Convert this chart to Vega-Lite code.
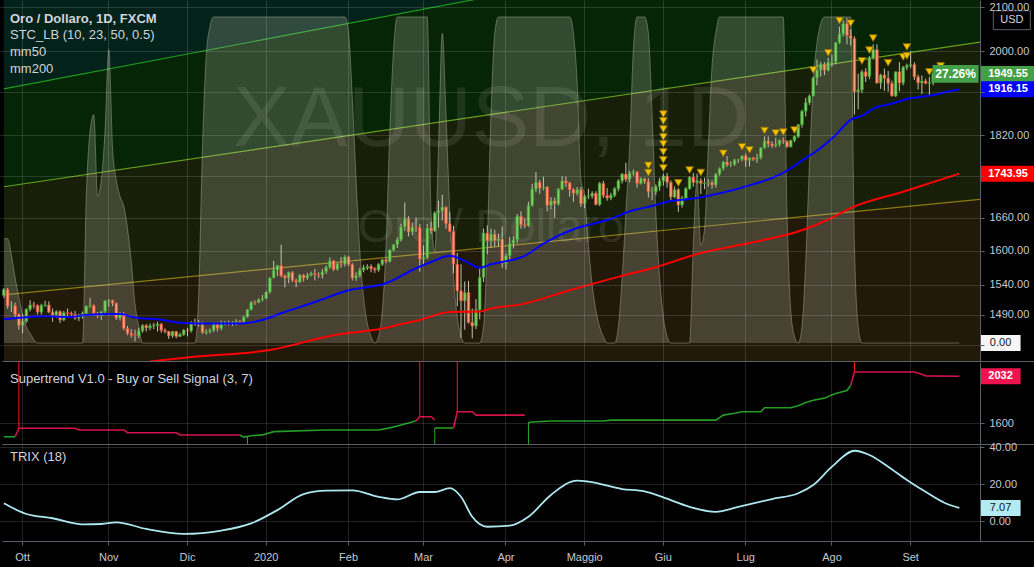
{
"$schema": "https://vega.github.io/schema/vega-lite/v6.json",
"background": "#000000",
"padding": {"left": 0, "top": 0, "right": 0, "bottom": 5},
"bounds": "flush",
"spacing": 1,
"resolve": {"scale": {"x": "shared", "color": "independent"}},
"config": {
  "view": {"stroke": null},
  "axis": {"labelFont": "Liberation Sans", "labelFontSize": 11, "labelColor": "#c5c8cf", "domainColor": "#5d606b", "tickColor": "#5d606b", "gridColor": "#ffffff", "gridOpacity": 0.13},
  "title": {"font": "Liberation Sans", "color": "#d1d4dc", "anchor": "start", "frame": "group"}
},
"datasets": {
  "ohlc": [
{"d":"2019-09-24","o":1522,"h":1535,"l":1518,"c":1532},{"d":"2019-09-25","o":1532,"h":1535,"l":1500,"c":1504},{"d":"2019-09-26","o":1504,"h":1512,"l":1494,"c":1505},{"d":"2019-09-27","o":1505,"h":1510,"l":1485,"c":1490},{"d":"2019-09-30","o":1490,"h":1492,"l":1465,"c":1472},
{"d":"2019-10-01","o":1472,"h":1490,"l":1459,"c":1479},{"d":"2019-10-02","o":1479,"h":1500,"l":1476,"c":1499},{"d":"2019-10-03","o":1499,"h":1514,"l":1495,"c":1506},{"d":"2019-10-04","o":1506,"h":1511,"l":1500,"c":1505},{"d":"2019-10-07","o":1505,"h":1507,"l":1490,"c":1494},{"d":"2019-10-08","o":1494,"h":1508,"l":1490,"c":1505},{"d":"2019-10-09","o":1505,"h":1513,"l":1503,"c":1506},{"d":"2019-10-10","o":1506,"h":1512,"l":1492,"c":1494},{"d":"2019-10-11","o":1494,"h":1500,"l":1478,"c":1489},{"d":"2019-10-14","o":1489,"h":1497,"l":1484,"c":1495},{"d":"2019-10-15","o":1495,"h":1497,"l":1476,"c":1481},{"d":"2019-10-16","o":1481,"h":1496,"l":1479,"c":1493},{"d":"2019-10-17","o":1493,"h":1500,"l":1486,"c":1492},{"d":"2019-10-18","o":1492,"h":1495,"l":1485,"c":1490},{"d":"2019-10-21","o":1490,"h":1496,"l":1481,"c":1484},{"d":"2019-10-22","o":1484,"h":1491,"l":1479,"c":1487},{"d":"2019-10-23","o":1487,"h":1495,"l":1483,"c":1492},{"d":"2019-10-24","o":1492,"h":1505,"l":1489,"c":1504},{"d":"2019-10-25","o":1504,"h":1518,"l":1501,"c":1505},{"d":"2019-10-28","o":1505,"h":1507,"l":1488,"c":1492},{"d":"2019-10-29","o":1492,"h":1494,"l":1484,"c":1488},{"d":"2019-10-30","o":1488,"h":1496,"l":1481,"c":1495},{"d":"2019-10-31","o":1495,"h":1514,"l":1491,"c":1513},
{"d":"2019-11-01","o":1513,"h":1516,"l":1503,"c":1514},{"d":"2019-11-04","o":1514,"h":1515,"l":1504,"c":1509},{"d":"2019-11-05","o":1509,"h":1510,"l":1481,"c":1484},{"d":"2019-11-06","o":1484,"h":1494,"l":1480,"c":1491},{"d":"2019-11-07","o":1491,"h":1494,"l":1464,"c":1467},{"d":"2019-11-08","o":1467,"h":1471,"l":1456,"c":1459},{"d":"2019-11-11","o":1459,"h":1466,"l":1452,"c":1456},{"d":"2019-11-12","o":1456,"h":1465,"l":1446,"c":1455},{"d":"2019-11-13","o":1455,"h":1468,"l":1451,"c":1463},{"d":"2019-11-14","o":1463,"h":1474,"l":1460,"c":1472},{"d":"2019-11-15","o":1472,"h":1474,"l":1462,"c":1468},{"d":"2019-11-18","o":1468,"h":1475,"l":1464,"c":1471},{"d":"2019-11-19","o":1471,"h":1476,"l":1466,"c":1472},{"d":"2019-11-20","o":1472,"h":1478,"l":1462,"c":1474},{"d":"2019-11-21","o":1474,"h":1476,"l":1460,"c":1464},{"d":"2019-11-22","o":1464,"h":1467,"l":1459,"c":1462},{"d":"2019-11-25","o":1462,"h":1463,"l":1450,"c":1455},{"d":"2019-11-26","o":1455,"h":1463,"l":1452,"c":1462},{"d":"2019-11-27","o":1462,"h":1463,"l":1451,"c":1454},{"d":"2019-11-28","o":1454,"h":1460,"l":1453,"c":1457},{"d":"2019-11-29","o":1457,"h":1466,"l":1455,"c":1464},
{"d":"2019-12-02","o":1464,"h":1468,"l":1454,"c":1463},{"d":"2019-12-03","o":1463,"h":1479,"l":1460,"c":1477},{"d":"2019-12-04","o":1477,"h":1483,"l":1471,"c":1474},{"d":"2019-12-05","o":1474,"h":1481,"l":1470,"c":1475},{"d":"2019-12-06","o":1475,"h":1478,"l":1458,"c":1460},{"d":"2019-12-09","o":1460,"h":1466,"l":1457,"c":1462},{"d":"2019-12-10","o":1462,"h":1467,"l":1459,"c":1464},{"d":"2019-12-11","o":1464,"h":1477,"l":1461,"c":1475},{"d":"2019-12-12","o":1475,"h":1477,"l":1462,"c":1467},{"d":"2019-12-13","o":1467,"h":1480,"l":1464,"c":1476},{"d":"2019-12-16","o":1476,"h":1479,"l":1472,"c":1476},{"d":"2019-12-17","o":1476,"h":1480,"l":1472,"c":1475},{"d":"2019-12-18","o":1475,"h":1479,"l":1471,"c":1477},{"d":"2019-12-19","o":1477,"h":1482,"l":1472,"c":1479},{"d":"2019-12-20","o":1479,"h":1481,"l":1474,"c":1478},{"d":"2019-12-23","o":1478,"h":1488,"l":1476,"c":1486},{"d":"2019-12-24","o":1486,"h":1499,"l":1485,"c":1498},{"d":"2019-12-26","o":1498,"h":1512,"l":1497,"c":1511},{"d":"2019-12-27","o":1511,"h":1514,"l":1506,"c":1510},{"d":"2019-12-30","o":1510,"h":1517,"l":1509,"c":1515},{"d":"2019-12-31","o":1515,"h":1523,"l":1512,"c":1517},
{"d":"2020-01-02","o":1517,"h":1529,"l":1516,"c":1528},{"d":"2020-01-03","o":1528,"h":1553,"l":1525,"c":1552},{"d":"2020-01-06","o":1552,"h":1582,"l":1552,"c":1566},{"d":"2020-01-07","o":1566,"h":1575,"l":1555,"c":1574},{"d":"2020-01-08","o":1574,"h":1611,"l":1553,"c":1556},{"d":"2020-01-09","o":1556,"h":1558,"l":1536,"c":1552},{"d":"2020-01-10","o":1552,"h":1563,"l":1543,"c":1562},{"d":"2020-01-13","o":1562,"h":1564,"l":1545,"c":1548},{"d":"2020-01-14","o":1548,"h":1551,"l":1536,"c":1545},{"d":"2020-01-15","o":1545,"h":1559,"l":1543,"c":1557},{"d":"2020-01-16","o":1557,"h":1559,"l":1546,"c":1552},{"d":"2020-01-17","o":1552,"h":1561,"l":1549,"c":1557},{"d":"2020-01-20","o":1557,"h":1563,"l":1555,"c":1560},{"d":"2020-01-21","o":1560,"h":1568,"l":1548,"c":1558},{"d":"2020-01-22","o":1558,"h":1562,"l":1552,"c":1557},{"d":"2020-01-23","o":1557,"h":1568,"l":1551,"c":1563},{"d":"2020-01-24","o":1563,"h":1574,"l":1559,"c":1571},{"d":"2020-01-27","o":1571,"h":1588,"l":1568,"c":1582},{"d":"2020-01-28","o":1582,"h":1584,"l":1564,"c":1567},{"d":"2020-01-29","o":1567,"h":1579,"l":1565,"c":1577},{"d":"2020-01-30","o":1577,"h":1589,"l":1570,"c":1576},{"d":"2020-01-31","o":1576,"h":1592,"l":1572,"c":1589},
{"d":"2020-02-03","o":1589,"h":1591,"l":1573,"c":1576},{"d":"2020-02-04","o":1576,"h":1578,"l":1548,"c":1552},{"d":"2020-02-05","o":1552,"h":1562,"l":1547,"c":1556},{"d":"2020-02-06","o":1556,"h":1570,"l":1553,"c":1566},{"d":"2020-02-07","o":1566,"h":1575,"l":1562,"c":1570},{"d":"2020-02-10","o":1570,"h":1576,"l":1566,"c":1572},{"d":"2020-02-11","o":1572,"h":1576,"l":1562,"c":1568},{"d":"2020-02-12","o":1568,"h":1571,"l":1561,"c":1566},{"d":"2020-02-13","o":1566,"h":1578,"l":1563,"c":1576},{"d":"2020-02-14","o":1576,"h":1585,"l":1573,"c":1584},{"d":"2020-02-17","o":1584,"h":1586,"l":1578,"c":1581},{"d":"2020-02-18","o":1581,"h":1603,"l":1579,"c":1601},{"d":"2020-02-19","o":1601,"h":1612,"l":1599,"c":1611},{"d":"2020-02-20","o":1611,"h":1624,"l":1605,"c":1620},{"d":"2020-02-21","o":1620,"h":1649,"l":1617,"c":1643},{"d":"2020-02-24","o":1643,"h":1689,"l":1636,"c":1658},{"d":"2020-02-25","o":1658,"h":1663,"l":1626,"c":1634},{"d":"2020-02-26","o":1634,"h":1651,"l":1628,"c":1643},{"d":"2020-02-27","o":1643,"h":1661,"l":1634,"c":1642},{"d":"2020-02-28","o":1642,"h":1649,"l":1563,"c":1585},
{"d":"2020-03-02","o":1585,"h":1610,"l":1575,"c":1588},{"d":"2020-03-03","o":1588,"h":1649,"l":1585,"c":1641},{"d":"2020-03-04","o":1641,"h":1652,"l":1631,"c":1636},{"d":"2020-03-05","o":1636,"h":1672,"l":1634,"c":1669},{"d":"2020-03-06","o":1669,"h":1692,"l":1642,"c":1673},{"d":"2020-03-09","o":1673,"h":1703,"l":1655,"c":1680},{"d":"2020-03-10","o":1680,"h":1681,"l":1640,"c":1649},{"d":"2020-03-11","o":1649,"h":1671,"l":1634,"c":1635},{"d":"2020-03-12","o":1635,"h":1645,"l":1560,"c":1576},{"d":"2020-03-13","o":1576,"h":1596,"l":1504,"c":1530},{"d":"2020-03-16","o":1530,"h":1576,"l":1452,"c":1513},{"d":"2020-03-17","o":1513,"h":1546,"l":1465,"c":1527},{"d":"2020-03-18","o":1527,"h":1547,"l":1475,"c":1477},{"d":"2020-03-19","o":1477,"h":1500,"l":1451,"c":1471},{"d":"2020-03-20","o":1471,"h":1516,"l":1466,"c":1498},{"d":"2020-03-23","o":1498,"h":1569,"l":1482,"c":1553},{"d":"2020-03-24","o":1553,"h":1640,"l":1545,"c":1632},{"d":"2020-03-25","o":1632,"h":1646,"l":1594,"c":1618},{"d":"2020-03-26","o":1618,"h":1640,"l":1605,"c":1630},{"d":"2020-03-27","o":1630,"h":1638,"l":1607,"c":1618},{"d":"2020-03-30","o":1618,"h":1631,"l":1608,"c":1621},{"d":"2020-03-31","o":1621,"h":1644,"l":1570,"c":1577},
{"d":"2020-04-01","o":1577,"h":1595,"l":1567,"c":1591},{"d":"2020-04-02","o":1591,"h":1625,"l":1584,"c":1613},{"d":"2020-04-03","o":1613,"h":1626,"l":1604,"c":1620},{"d":"2020-04-06","o":1620,"h":1667,"l":1613,"c":1663},{"d":"2020-04-07","o":1663,"h":1672,"l":1640,"c":1647},{"d":"2020-04-08","o":1647,"h":1658,"l":1641,"c":1645},{"d":"2020-04-09","o":1645,"h":1690,"l":1643,"c":1683},{"d":"2020-04-13","o":1683,"h":1724,"l":1681,"c":1714},{"d":"2020-04-14","o":1714,"h":1747,"l":1708,"c":1727},{"d":"2020-04-15","o":1727,"h":1732,"l":1705,"c":1716},{"d":"2020-04-16","o":1716,"h":1738,"l":1712,"c":1718},{"d":"2020-04-17","o":1718,"h":1720,"l":1672,"c":1683},{"d":"2020-04-20","o":1683,"h":1699,"l":1676,"c":1692},{"d":"2020-04-21","o":1692,"h":1698,"l":1660,"c":1686},{"d":"2020-04-22","o":1686,"h":1716,"l":1683,"c":1714},{"d":"2020-04-23","o":1714,"h":1739,"l":1712,"c":1730},{"d":"2020-04-24","o":1730,"h":1738,"l":1718,"c":1726},{"d":"2020-04-27","o":1726,"h":1728,"l":1700,"c":1713},{"d":"2020-04-28","o":1713,"h":1716,"l":1690,"c":1706},{"d":"2020-04-29","o":1706,"h":1718,"l":1702,"c":1713},{"d":"2020-04-30","o":1713,"h":1718,"l":1680,"c":1686},
{"d":"2020-05-01","o":1686,"h":1703,"l":1678,"c":1700},{"d":"2020-05-04","o":1700,"h":1715,"l":1695,"c":1701},{"d":"2020-05-05","o":1701,"h":1710,"l":1696,"c":1706},{"d":"2020-05-06","o":1706,"h":1710,"l":1683,"c":1685},{"d":"2020-05-07","o":1685,"h":1728,"l":1682,"c":1725},{"d":"2020-05-08","o":1725,"h":1730,"l":1697,"c":1702},{"d":"2020-05-11","o":1702,"h":1716,"l":1692,"c":1697},{"d":"2020-05-12","o":1697,"h":1707,"l":1693,"c":1702},{"d":"2020-05-13","o":1702,"h":1718,"l":1699,"c":1715},{"d":"2020-05-14","o":1715,"h":1733,"l":1710,"c":1730},{"d":"2020-05-15","o":1730,"h":1745,"l":1725,"c":1743},{"d":"2020-05-18","o":1743,"h":1765,"l":1728,"c":1733},{"d":"2020-05-19","o":1733,"h":1749,"l":1727,"c":1745},{"d":"2020-05-20","o":1745,"h":1752,"l":1740,"c":1747},{"d":"2020-05-21","o":1747,"h":1749,"l":1717,"c":1725},{"d":"2020-05-22","o":1725,"h":1737,"l":1723,"c":1734},{"d":"2020-05-25","o":1734,"h":1736,"l":1724,"c":1729},{"d":"2020-05-26","o":1729,"h":1735,"l":1698,"c":1709},{"d":"2020-05-27","o":1709,"h":1718,"l":1693,"c":1709},{"d":"2020-05-28","o":1709,"h":1723,"l":1702,"c":1719},{"d":"2020-05-29","o":1719,"h":1736,"l":1711,"c":1730},
{"d":"2020-06-01","o":1730,"h":1744,"l":1721,"c":1739},{"d":"2020-06-02","o":1739,"h":1745,"l":1717,"c":1727},{"d":"2020-06-03","o":1727,"h":1731,"l":1693,"c":1699},{"d":"2020-06-04","o":1699,"h":1719,"l":1697,"c":1713},{"d":"2020-06-05","o":1713,"h":1716,"l":1671,"c":1684},{"d":"2020-06-08","o":1684,"h":1701,"l":1679,"c":1697},{"d":"2020-06-09","o":1697,"h":1718,"l":1694,"c":1715},{"d":"2020-06-10","o":1715,"h":1739,"l":1713,"c":1737},{"d":"2020-06-11","o":1737,"h":1745,"l":1719,"c":1727},{"d":"2020-06-12","o":1727,"h":1744,"l":1725,"c":1730},{"d":"2020-06-15","o":1730,"h":1735,"l":1705,"c":1725},{"d":"2020-06-16","o":1725,"h":1736,"l":1714,"c":1726},{"d":"2020-06-17","o":1726,"h":1733,"l":1719,"c":1727},{"d":"2020-06-18","o":1727,"h":1731,"l":1715,"c":1722},{"d":"2020-06-19","o":1722,"h":1745,"l":1717,"c":1743},{"d":"2020-06-22","o":1743,"h":1756,"l":1740,"c":1754},{"d":"2020-06-23","o":1754,"h":1769,"l":1750,"c":1767},{"d":"2020-06-24","o":1767,"h":1779,"l":1757,"c":1761},{"d":"2020-06-25","o":1761,"h":1768,"l":1757,"c":1762},{"d":"2020-06-26","o":1762,"h":1773,"l":1759,"c":1771},{"d":"2020-06-29","o":1771,"h":1773,"l":1765,"c":1772},{"d":"2020-06-30","o":1772,"h":1780,"l":1768,"c":1779},
{"d":"2020-07-01","o":1779,"h":1784,"l":1757,"c":1770},{"d":"2020-07-02","o":1770,"h":1776,"l":1758,"c":1775},{"d":"2020-07-03","o":1775,"h":1777,"l":1769,"c":1772},{"d":"2020-07-06","o":1772,"h":1783,"l":1765,"c":1775},{"d":"2020-07-07","o":1775,"h":1796,"l":1772,"c":1795},{"d":"2020-07-08","o":1795,"h":1818,"l":1793,"c":1809},{"d":"2020-07-09","o":1809,"h":1818,"l":1796,"c":1803},{"d":"2020-07-10","o":1803,"h":1808,"l":1795,"c":1799},{"d":"2020-07-13","o":1799,"h":1815,"l":1796,"c":1802},{"d":"2020-07-14","o":1802,"h":1812,"l":1798,"c":1810},{"d":"2020-07-15","o":1810,"h":1816,"l":1803,"c":1808},{"d":"2020-07-16","o":1808,"h":1810,"l":1795,"c":1797},{"d":"2020-07-17","o":1797,"h":1811,"l":1796,"c":1810},{"d":"2020-07-20","o":1810,"h":1820,"l":1806,"c":1818},{"d":"2020-07-21","o":1818,"h":1843,"l":1815,"c":1842},{"d":"2020-07-22","o":1842,"h":1873,"l":1836,"c":1870},{"d":"2020-07-23","o":1870,"h":1898,"l":1859,"c":1888},{"d":"2020-07-24","o":1888,"h":1905,"l":1883,"c":1902},{"d":"2020-07-27","o":1902,"h":1944,"l":1901,"c":1941},{"d":"2020-07-28","o":1941,"h":1981,"l":1925,"c":1958},{"d":"2020-07-29","o":1958,"h":1976,"l":1944,"c":1971},{"d":"2020-07-30","o":1971,"h":1975,"l":1947,"c":1957},{"d":"2020-07-31","o":1957,"h":1985,"l":1955,"c":1975},
{"d":"2020-08-03","o":1975,"h":1992,"l":1965,"c":1976},{"d":"2020-08-04","o":1976,"h":2020,"l":1970,"c":2019},{"d":"2020-08-05","o":2019,"h":2055,"l":2016,"c":2039},{"d":"2020-08-06","o":2039,"h":2070,"l":2033,"c":2062},{"d":"2020-08-07","o":2062,"h":2075,"l":2015,"c":2035},{"d":"2020-08-10","o":2035,"h":2049,"l":2012,"c":2028},{"d":"2020-08-11","o":2028,"h":2033,"l":1863,"c":1911},{"d":"2020-08-12","o":1911,"h":1950,"l":1874,"c":1915},{"d":"2020-08-13","o":1915,"h":1958,"l":1908,"c":1954},{"d":"2020-08-14","o":1954,"h":1962,"l":1932,"c":1944},{"d":"2020-08-17","o":1944,"h":1989,"l":1938,"c":1985},{"d":"2020-08-18","o":1985,"h":2015,"l":1981,"c":2003},{"d":"2020-08-19","o":2003,"h":2015,"l":1928,"c":1930},{"d":"2020-08-20","o":1930,"h":1950,"l":1917,"c":1947},{"d":"2020-08-21","o":1947,"h":1961,"l":1913,"c":1940},{"d":"2020-08-24","o":1940,"h":1956,"l":1911,"c":1929},{"d":"2020-08-25","o":1929,"h":1935,"l":1901,"c":1902},{"d":"2020-08-26","o":1902,"h":1955,"l":1900,"c":1954},{"d":"2020-08-27","o":1954,"h":1975,"l":1912,"c":1930},{"d":"2020-08-28","o":1930,"h":1967,"l":1925,"c":1964},{"d":"2020-08-31","o":1964,"h":1972,"l":1958,"c":1968},
{"d":"2020-09-01","o":1968,"h":2000,"l":1962,"c":1970},{"d":"2020-09-02","o":1970,"h":1975,"l":1936,"c":1943},{"d":"2020-09-03","o":1943,"h":1948,"l":1916,"c":1930},{"d":"2020-09-04","o":1930,"h":1946,"l":1906,"c":1934},{"d":"2020-09-07","o":1934,"h":1939,"l":1927,"c":1929},{"d":"2020-09-08","o":1929,"h":1943,"l":1904,"c":1931},{"d":"2020-09-09","o":1931,"h":1956,"l":1925,"c":1949.55}
  ],
  "mm50": [
{"d":"2019-09-24","v":1482},{"d":"2019-10-01","v":1485},{"d":"2019-10-09","v":1487},{"d":"2019-10-17","v":1486},{"d":"2019-10-24","v":1489},{"d":"2019-11-01","v":1491},{"d":"2019-11-06","v":1491},{"d":"2019-11-12","v":1485},{"d":"2019-11-20","v":1482},{"d":"2019-11-29","v":1476},{"d":"2019-12-11","v":1475},{"d":"2019-12-20","v":1475},{"d":"2019-12-31","v":1481},{"d":"2020-01-08","v":1492},{"d":"2020-01-21","v":1511},{"d":"2020-02-03","v":1531},{"d":"2020-02-17","v":1543},{"d":"2020-02-27","v":1569},{"d":"2020-03-04","v":1580},{"d":"2020-03-11","v":1591},{"d":"2020-03-17","v":1582},{"d":"2020-03-23","v":1570},{"d":"2020-03-26","v":1576},{"d":"2020-03-31","v":1580},{"d":"2020-04-08","v":1591},{"d":"2020-04-16","v":1613},{"d":"2020-04-28","v":1639},{"d":"2020-05-11","v":1656},{"d":"2020-05-20","v":1674},{"d":"2020-05-27","v":1682},{"d":"2020-06-02","v":1690},{"d":"2020-06-11","v":1696},{"d":"2020-06-18","v":1703},{"d":"2020-06-30","v":1717},{"d":"2020-07-17","v":1754},{"d":"2020-07-23","v":1775},{"d":"2020-07-27","v":1784},{"d":"2020-08-04","v":1821},{"d":"2020-08-10","v":1852},{"d":"2020-08-13","v":1860},{"d":"2020-08-18","v":1875},{"d":"2020-08-25","v":1886},{"d":"2020-09-01","v":1897},{"d":"2020-09-09","v":1904},{"d":"2020-09-16","v":1913},{"d":"2020-09-18","v":1916.15}
  ],
  "mm200": [
{"d":"2019-11-18","v":1414},{"d":"2019-12-05","v":1422},{"d":"2020-01-03","v":1432},{"d":"2020-01-28","v":1456},{"d":"2020-02-14","v":1467},{"d":"2020-02-21","v":1474},{"d":"2020-02-28","v":1481},{"d":"2020-03-11","v":1494},{"d":"2020-03-23","v":1495},{"d":"2020-03-26","v":1500},{"d":"2020-04-07","v":1507},{"d":"2020-04-27","v":1531},{"d":"2020-05-14","v":1554},{"d":"2020-05-27","v":1569},{"d":"2020-06-15","v":1596},{"d":"2020-07-02","v":1614},{"d":"2020-07-22","v":1637},{"d":"2020-08-03","v":1660},{"d":"2020-08-10","v":1678},{"d":"2020-08-28","v":1709},{"d":"2020-09-18","v":1743.95}
  ],
  "stc": [
{"d":"2019-09-24","v":32},{"d":"2019-09-25","v":32},{"d":"2019-09-26","v":27},{"d":"2019-09-27","v":20},{"d":"2019-09-30","v":14},{"d":"2019-10-01","v":9},{"d":"2019-10-02","v":5},{"d":"2019-10-03","v":3},{"d":"2019-10-04","v":1},{"d":"2019-10-07","v":0},{"d":"2019-10-23","v":0},{"d":"2019-10-24","v":45},{"d":"2019-10-25","v":65},{"d":"2019-10-28","v":70},{"d":"2019-10-29","v":45},{"d":"2019-10-30","v":50},{"d":"2019-10-31","v":65},{"d":"2019-11-01","v":90},{"d":"2019-11-04","v":60},{"d":"2019-11-05","v":50},{"d":"2019-11-06","v":45},{"d":"2019-11-07","v":42},{"d":"2019-11-08","v":35},{"d":"2019-11-11","v":25},{"d":"2019-11-12","v":12},{"d":"2019-11-13","v":5},{"d":"2019-11-14","v":0},{"d":"2019-12-04","v":0},{"d":"2019-12-05","v":15},{"d":"2019-12-06","v":60},{"d":"2019-12-09","v":88},{"d":"2019-12-10","v":97},{"d":"2019-12-11","v":100},{"d":"2020-01-31","v":100},{"d":"2020-02-03","v":95},{"d":"2020-02-04","v":75},{"d":"2020-02-05","v":50},{"d":"2020-02-06","v":28},{"d":"2020-02-07","v":14},{"d":"2020-02-10","v":6},{"d":"2020-02-11","v":2},{"d":"2020-02-12","v":0},{"d":"2020-02-13","v":2},{"d":"2020-02-14","v":10},{"d":"2020-02-17","v":30},{"d":"2020-02-18","v":65},{"d":"2020-02-19","v":90},{"d":"2020-02-20","v":100},{"d":"2020-03-03","v":100},{"d":"2020-03-04","v":40},{"d":"2020-03-05","v":28},{"d":"2020-03-06","v":60},{"d":"2020-03-09","v":95},{"d":"2020-03-10","v":70},{"d":"2020-03-11","v":40},{"d":"2020-03-12","v":20},{"d":"2020-03-13","v":8},{"d":"2020-03-16","v":2},{"d":"2020-03-17","v":0},{"d":"2020-03-23","v":0},{"d":"2020-03-24","v":5},{"d":"2020-03-25","v":30},{"d":"2020-03-26","v":70},{"d":"2020-03-27","v":95},{"d":"2020-03-30","v":100},{"d":"2020-04-27","v":100},{"d":"2020-04-28","v":95},{"d":"2020-04-29","v":80},{"d":"2020-04-30","v":50},{"d":"2020-05-01","v":45},{"d":"2020-05-04","v":30},{"d":"2020-05-05","v":18},{"d":"2020-05-06","v":10},{"d":"2020-05-07","v":5},{"d":"2020-05-08","v":2},{"d":"2020-05-11","v":0},{"d":"2020-05-13","v":0},{"d":"2020-05-14","v":5},{"d":"2020-05-15","v":20},{"d":"2020-05-18","v":40},{"d":"2020-05-19","v":60},{"d":"2020-05-20","v":90},{"d":"2020-05-21","v":100},{"d":"2020-05-25","v":100},{"d":"2020-05-26","v":95},{"d":"2020-05-27","v":70},{"d":"2020-05-28","v":40},{"d":"2020-05-29","v":20},{"d":"2020-06-01","v":8},{"d":"2020-06-02","v":2},{"d":"2020-06-03","v":0},{"d":"2020-06-10","v":0},{"d":"2020-06-11","v":30},{"d":"2020-06-12","v":50},{"d":"2020-06-15","v":30},{"d":"2020-06-16","v":35},{"d":"2020-06-17","v":60},{"d":"2020-06-18","v":85},{"d":"2020-06-19","v":95},{"d":"2020-06-22","v":100},{"d":"2020-07-15","v":100},{"d":"2020-07-16","v":40},{"d":"2020-07-17","v":10},{"d":"2020-07-20","v":2},{"d":"2020-07-21","v":0},{"d":"2020-07-22","v":5},{"d":"2020-07-23","v":25},{"d":"2020-07-24","v":55},{"d":"2020-07-27","v":80},{"d":"2020-07-28","v":92},{"d":"2020-07-29","v":98},{"d":"2020-07-30","v":100},{"d":"2020-08-10","v":100},{"d":"2020-08-11","v":30},{"d":"2020-08-12","v":5},{"d":"2020-08-13","v":0},{"d":"2020-09-18","v":0}
  ],
  "tri": [
{"d":"2020-05-26","p":1760},{"d":"2020-05-26","p":1746},{"d":"2020-06-01","p":1864},{"d":"2020-06-01","p":1850},{"d":"2020-06-01","p":1833},{"d":"2020-06-01","p":1817},{"d":"2020-06-01","p":1803},{"d":"2020-06-01","p":1787},{"d":"2020-06-01","p":1771},{"d":"2020-06-01","p":1755},{"d":"2020-06-05","p":1726},{"d":"2020-06-10","p":1751},{"d":"2020-06-15","p":1746},{"d":"2020-06-23","p":1784},{"d":"2020-06-30","p":1797},{"d":"2020-07-02","p":1791},{"d":"2020-07-08","p":1830},{"d":"2020-07-13","p":1825},{"d":"2020-07-15","p":1827},{"d":"2020-07-20","p":1831},{"d":"2020-07-27","p":1958},{"d":"2020-07-31","p":1996},{"d":"2020-08-05","p":2069},{"d":"2020-08-10","p":2063},{"d":"2020-08-13","p":1978},{"d":"2020-08-17","p":2002},{"d":"2020-08-18","p":2029},{"d":"2020-08-24","p":1974},{"d":"2020-08-28","p":1987},{"d":"2020-08-31","p":2009},{"d":"2020-08-31","p":1989},{"d":"2020-09-08","p":1954},{"d":"2020-09-11","p":1967}
  ],
  "chan": [
{"d":"2019-09-24","A":1917.1,"B":1718.6,"C":1523.1},{"d":"2020-09-28","A":2359.4,"B":2020.8,"C":1694.9}
  ],
  "pricebox": [
{"d":"2020-10-07","p":1949.55,"k":"last"},{"d":"2020-10-07","p":1916.15,"k":"mm50"},{"d":"2020-10-07","p":1743.95,"k":"mm200"}
  ],
  "st": [
{"d":"2019-09-24","v":1473,"s":"a","t":"buy"},{"d":"2019-09-27","v":1473,"s":"a","t":"buy"},
{"d":"2019-09-27","v":1473,"s":"b","t":"sell"},{"d":"2019-09-30","v":1551,"s":"b","t":"sell"},{"d":"2019-10-21","v":1551,"s":"b","t":"sell"},{"d":"2019-10-22","v":1535,"s":"b","t":"sell"},{"d":"2019-11-07","v":1535,"s":"b","t":"sell"},{"d":"2019-11-08","v":1510,"s":"b","t":"sell"},{"d":"2019-11-27","v":1510,"s":"b","t":"sell"},{"d":"2019-11-28","v":1489,"s":"b","t":"sell"},{"d":"2019-12-20","v":1489,"s":"b","t":"sell"},
{"d":"2019-12-20","v":1489,"s":"c","t":"buy"},{"d":"2019-12-23","v":1470,"s":"c","t":"buy"},{"d":"2019-12-26","v":1482,"s":"c","t":"buy"},{"d":"2019-12-31","v":1490,"s":"c","t":"buy"},{"d":"2020-01-06","v":1520,"s":"c","t":"buy"},{"d":"2020-01-24","v":1536,"s":"c","t":"buy"},{"d":"2020-02-13","v":1536,"s":"c","t":"buy"},{"d":"2020-02-18","v":1555,"s":"c","t":"buy"},{"d":"2020-02-21","v":1582,"s":"c","t":"buy"},{"d":"2020-02-25","v":1600,"s":"c","t":"buy"},{"d":"2020-02-27","v":1620,"s":"c","t":"buy"},
{"d":"2020-02-27","v":1620,"s":"d","t":"sell"},{"d":"2020-02-28","v":1658,"s":"d","t":"sell"},{"d":"2020-03-04","v":1658,"s":"d","t":"sell"},{"d":"2020-03-05","v":1630,"s":"d","t":"sell"},
{"d":"2020-03-05","v":1554,"s":"e","t":"buy"},{"d":"2020-03-12","v":1554,"s":"e","t":"buy"},
{"d":"2020-03-12","v":1554,"s":"f","t":"sell"},{"d":"2020-03-13","v":1704,"s":"f","t":"sell"},{"d":"2020-03-19","v":1704,"s":"f","t":"sell"},{"d":"2020-03-20","v":1673,"s":"f","t":"sell"},{"d":"2020-04-08","v":1673,"s":"f","t":"sell"},
{"d":"2020-04-09","v":1605,"s":"g","t":"buy"},{"d":"2020-04-13","v":1609,"s":"g","t":"buy"},{"d":"2020-04-20","v":1618,"s":"g","t":"buy"},{"d":"2020-05-08","v":1618,"s":"g","t":"buy"},{"d":"2020-05-12","v":1627,"s":"g","t":"buy"},{"d":"2020-06-19","v":1627,"s":"g","t":"buy"},{"d":"2020-06-22","v":1650,"s":"g","t":"buy"},{"d":"2020-06-23","v":1673,"s":"g","t":"buy"},{"d":"2020-06-26","v":1690,"s":"g","t":"buy"},{"d":"2020-06-30","v":1704,"s":"g","t":"buy"},{"d":"2020-07-07","v":1704,"s":"g","t":"buy"},{"d":"2020-07-08","v":1741,"s":"g","t":"buy"},{"d":"2020-07-17","v":1741,"s":"g","t":"buy"},{"d":"2020-07-21","v":1760,"s":"g","t":"buy"},{"d":"2020-07-23","v":1790,"s":"g","t":"buy"},{"d":"2020-07-27","v":1811,"s":"g","t":"buy"},{"d":"2020-07-30","v":1830,"s":"g","t":"buy"},{"d":"2020-08-03","v":1860,"s":"g","t":"buy"},{"d":"2020-08-04","v":1873,"s":"g","t":"buy"},{"d":"2020-08-07","v":1900,"s":"g","t":"buy"},{"d":"2020-08-10","v":1949,"s":"g","t":"buy"},
{"d":"2020-08-10","v":1949,"s":"h","t":"sell"},{"d":"2020-08-11","v":2072,"s":"h","t":"sell"},{"d":"2020-09-02","v":2072,"s":"h","t":"sell"},{"d":"2020-09-04","v":2050,"s":"h","t":"sell"},{"d":"2020-09-07","v":2036,"s":"h","t":"sell"},{"d":"2020-09-18","v":2032,"s":"h","t":"sell"}
  ],
  "spk": [
{"d":"2019-09-30","a":1551,"b":2400,"t":"sell"},{"d":"2019-12-24","a":1476,"b":1200,"t":"buy"},{"d":"2020-02-28","a":1658,"b":2400,"t":"sell"},{"d":"2020-03-05","a":1554,"b":1200,"t":"buy"},{"d":"2020-03-13","a":1704,"b":2400,"t":"sell"},{"d":"2020-04-09","a":1605,"b":1200,"t":"buy"},{"d":"2020-08-11","a":2072,"b":2400,"t":"sell"}
  ],
  "trix": [
{"d":"2019-09-24","v":9.6},{"d":"2019-10-02","v":3.8},{"d":"2019-10-11","v":1.5},{"d":"2019-10-23","v":-1.8},{"d":"2019-10-30","v":-1.6},{"d":"2019-11-05","v":-0.7},{"d":"2019-11-15","v":-4.3},{"d":"2019-11-29","v":-7},{"d":"2019-12-13","v":-5.2},{"d":"2019-12-26","v":-1.3},{"d":"2020-01-07","v":5.9},{"d":"2020-01-16","v":14.6},{"d":"2020-01-24","v":16.4},{"d":"2020-02-04","v":16.6},{"d":"2020-02-13","v":13.1},{"d":"2020-02-20","v":11.7},{"d":"2020-02-28","v":15.7},{"d":"2020-03-05","v":15.7},{"d":"2020-03-11","v":17.8},{"d":"2020-03-16","v":13.1},{"d":"2020-03-19","v":2.3},{"d":"2020-03-25","v":-3.1},{"d":"2020-04-02","v":-2.5},{"d":"2020-04-09","v":2.3},{"d":"2020-04-20","v":14.1},{"d":"2020-04-29","v":21.8},{"d":"2020-05-04","v":21.3},{"d":"2020-05-15","v":17.3},{"d":"2020-05-25","v":16},{"d":"2020-06-01","v":12.8},{"d":"2020-06-10","v":7.7},{"d":"2020-06-19","v":5},{"d":"2020-06-29","v":7.7},{"d":"2020-07-10","v":11.9},{"d":"2020-07-21","v":15},{"d":"2020-07-27","v":19.5},{"d":"2020-08-03","v":29.4},{"d":"2020-08-11","v":38},{"d":"2020-08-17","v":35.7},{"d":"2020-08-24","v":29.4},{"d":"2020-08-31","v":22.2},{"d":"2020-09-07","v":15.8},{"d":"2020-09-14","v":9.9},{"d":"2020-09-18","v":7.07}
  ]
},
"vconcat": [
{
  "width": 978,
  "height": 361,
  "title": {"text": "Oro / Dollaro, 1D, FXCM", "subtitle": ["STC_LB (10, 23, 50, 0.5)", "mm50", "mm200"], "orient": "top", "offset": -76, "dx": 8, "fontSize": 13, "fontWeight": "bold", "subtitleFont": "Liberation Sans", "subtitleFontSize": 13, "subtitleColor": "#d1d4dc", "subtitlePadding": 3, "subtitleLineHeight": 17},
  "resolve": {"scale": {"y": "independent"}},
  "layer": [
    {
      "data": {"name": "chan"},
      "layer": [
        {"mark": {"type": "area", "clip": true, "color": "#03231a"},
         "encoding": {"x": {"field": "d", "type": "ordinal", "title": null}, "y": {"field": "A", "type": "quantitative", "scale": {"type": "log", "domain": [1414.6, 2117.3], "nice": false, "zero": false}, "axis": null}, "y2": {"datum": 2500}}},
        {"mark": {"type": "area", "clip": true, "color": "#062406"},
         "encoding": {"x": {"field": "d", "type": "ordinal", "title": null}, "y": {"field": "B", "type": "quantitative", "axis": null}, "y2": {"field": "A"}}},
        {"mark": {"type": "area", "clip": true, "color": "#181f08"},
         "encoding": {"x": {"field": "d", "type": "ordinal", "title": null}, "y": {"field": "C", "type": "quantitative", "axis": null}, "y2": {"field": "B"}}},
        {"mark": {"type": "area", "clip": true, "color": "#21190a"},
         "encoding": {"x": {"field": "d", "type": "ordinal", "title": null}, "y": {"field": "C", "type": "quantitative", "axis": null}, "y2": {"datum": 1300}}},
        {"mark": {"type": "line", "clip": true, "color": "#1f9c1f", "strokeWidth": 1.2},
         "encoding": {"x": {"field": "d", "type": "ordinal", "title": null}, "y": {"field": "A", "type": "quantitative", "axis": null}}},
        {"mark": {"type": "line", "clip": true, "color": "#66a01c", "strokeWidth": 1.2},
         "encoding": {"x": {"field": "d", "type": "ordinal", "title": null}, "y": {"field": "B", "type": "quantitative", "axis": null}}},
        {"mark": {"type": "line", "clip": true, "color": "#8f7c12", "strokeWidth": 1.2},
         "encoding": {"x": {"field": "d", "type": "ordinal", "title": null}, "y": {"field": "C", "type": "quantitative", "axis": null}}}
      ]
    },
    {
      "layer": [
        {"data": {"name": "stc"},
         "mark": {"type": "area", "interpolate": "monotone", "clip": true, "fill": "#e4e6d6", "fillOpacity": 0.2, "line": {"color": "#a3a596", "strokeWidth": 1, "opacity": 0.5}},
         "encoding": {"x": {"field": "d", "type": "ordinal", "title": null}, "y": {"field": "v", "type": "quantitative", "scale": {"domain": [-5.5, 105.2], "nice": false, "zero": false}, "axis": null}, "y2": {"datum": 0}}},
        {"mark": {"type": "rule", "color": "#9e9e9e", "strokeDash": [1, 3], "opacity": 0.7},
         "encoding": {"y": {"datum": 0, "type": "quantitative", "axis": null}}}
      ]
    },
    {
      "layer": [
        {"data": {"values": [{"d": "2020-03-26", "p": 1852, "txt": "XAUUSD, 1D"}]},
         "mark": {"type": "text", "font": "Liberation Sans", "fontSize": 86, "color": "#ffffff", "opacity": 0.085, "baseline": "middle", "align": "center"},
         "encoding": {"x": {"field": "d", "type": "ordinal", "title": null}, "y": {"field": "p", "type": "quantitative", "title": null}, "text": {"field": "txt"}}},
        {"data": {"values": [{"d": "2020-03-26", "p": 1641, "txt": "Oro / Dollaro"}]},
         "mark": {"type": "text", "font": "Liberation Sans", "fontSize": 47, "color": "#ffffff", "opacity": 0.085, "baseline": "middle", "align": "center"},
         "encoding": {"x": {"field": "d", "type": "ordinal", "title": null}, "y": {"field": "p", "type": "quantitative", "title": null}, "text": {"field": "txt"}}},
        {"mark": {"type": "rule", "color": "#4caf50", "strokeDash": [2, 4], "strokeWidth": 1},
         "encoding": {"y": {"datum": 1949.55, "type": "quantitative", "title": null}}},
        {"data": {"name": "ohlc"},
         "mark": {"type": "rule", "color": "#c2c2b2", "strokeWidth": 1},
         "encoding": {
           "x": {"field": "d", "type": "ordinal", "title": null,
                 "scale": {"type": "band", "paddingInner": 0, "paddingOuter": 0, "range": [0, 1034.17],
                   "domain": ["2019-09-24","2019-09-25","2019-09-26","2019-09-27","2019-09-30","2019-10-01","2019-10-02","2019-10-03","2019-10-04","2019-10-07","2019-10-08","2019-10-09","2019-10-10","2019-10-11","2019-10-14","2019-10-15","2019-10-16","2019-10-17","2019-10-18","2019-10-21","2019-10-22","2019-10-23","2019-10-24","2019-10-25","2019-10-28","2019-10-29","2019-10-30","2019-10-31","2019-11-01","2019-11-04","2019-11-05","2019-11-06","2019-11-07","2019-11-08","2019-11-11","2019-11-12","2019-11-13","2019-11-14","2019-11-15","2019-11-18","2019-11-19","2019-11-20","2019-11-21","2019-11-22","2019-11-25","2019-11-26","2019-11-27","2019-11-28","2019-11-29","2019-12-02","2019-12-03","2019-12-04","2019-12-05","2019-12-06","2019-12-09","2019-12-10","2019-12-11","2019-12-12","2019-12-13","2019-12-16","2019-12-17","2019-12-18","2019-12-19","2019-12-20","2019-12-23","2019-12-24","2019-12-26","2019-12-27","2019-12-30","2019-12-31","2020-01-02","2020-01-03","2020-01-06","2020-01-07","2020-01-08","2020-01-09","2020-01-10","2020-01-13","2020-01-14","2020-01-15","2020-01-16","2020-01-17","2020-01-20","2020-01-21","2020-01-22","2020-01-23","2020-01-24","2020-01-27","2020-01-28","2020-01-29","2020-01-30","2020-01-31","2020-02-03","2020-02-04","2020-02-05","2020-02-06","2020-02-07","2020-02-10","2020-02-11","2020-02-12","2020-02-13","2020-02-14","2020-02-17","2020-02-18","2020-02-19","2020-02-20","2020-02-21","2020-02-24","2020-02-25","2020-02-26","2020-02-27","2020-02-28","2020-03-02","2020-03-03","2020-03-04","2020-03-05","2020-03-06","2020-03-09","2020-03-10","2020-03-11","2020-03-12","2020-03-13","2020-03-16","2020-03-17","2020-03-18","2020-03-19","2020-03-20","2020-03-23","2020-03-24","2020-03-25","2020-03-26","2020-03-27","2020-03-30","2020-03-31","2020-04-01","2020-04-02","2020-04-03","2020-04-06","2020-04-07","2020-04-08","2020-04-09","2020-04-13","2020-04-14","2020-04-15","2020-04-16","2020-04-17","2020-04-20","2020-04-21","2020-04-22","2020-04-23","2020-04-24","2020-04-27","2020-04-28","2020-04-29","2020-04-30","2020-05-01","2020-05-04","2020-05-05","2020-05-06","2020-05-07","2020-05-08","2020-05-11","2020-05-12","2020-05-13","2020-05-14","2020-05-15","2020-05-18","2020-05-19","2020-05-20","2020-05-21","2020-05-22","2020-05-25","2020-05-26","2020-05-27","2020-05-28","2020-05-29","2020-06-01","2020-06-02","2020-06-03","2020-06-04","2020-06-05","2020-06-08","2020-06-09","2020-06-10","2020-06-11","2020-06-12","2020-06-15","2020-06-16","2020-06-17","2020-06-18","2020-06-19","2020-06-22","2020-06-23","2020-06-24","2020-06-25","2020-06-26","2020-06-29","2020-06-30","2020-07-01","2020-07-02","2020-07-03","2020-07-06","2020-07-07","2020-07-08","2020-07-09","2020-07-10","2020-07-13","2020-07-14","2020-07-15","2020-07-16","2020-07-17","2020-07-20","2020-07-21","2020-07-22","2020-07-23","2020-07-24","2020-07-27","2020-07-28","2020-07-29","2020-07-30","2020-07-31","2020-08-03","2020-08-04","2020-08-05","2020-08-06","2020-08-07","2020-08-10","2020-08-11","2020-08-12","2020-08-13","2020-08-14","2020-08-17","2020-08-18","2020-08-19","2020-08-20","2020-08-21","2020-08-24","2020-08-25","2020-08-26","2020-08-27","2020-08-28","2020-08-31","2020-09-01","2020-09-02","2020-09-03","2020-09-04","2020-09-07","2020-09-08","2020-09-09","2020-09-10","2020-09-11","2020-09-14","2020-09-15","2020-09-16","2020-09-17","2020-09-18","2020-09-21","2020-09-22","2020-09-23","2020-09-24","2020-09-25","2020-09-28","2020-09-29","2020-09-30","2020-10-01","2020-10-02","2020-10-05","2020-10-06","2020-10-07","2020-10-08","2020-10-09","2020-10-12","2020-10-13","2020-10-14","2020-10-15","2020-10-16"]},
                 "axis": {"title": null, "values": ["2019-10-01","2019-11-01","2019-12-02","2020-01-02","2020-02-03","2020-03-02","2020-04-01","2020-05-01","2020-06-01","2020-07-01","2020-08-03","2020-09-01"], "labels": false, "ticks": false, "domain": true, "grid": true, "zindex": 1, "bandPosition": 0.5}},
           "y": {"field": "l", "type": "quantitative", "title": null,
                 "scale": {"type": "log", "domain": [1414.6, 2117.3], "nice": false, "zero": false},
                 "axis": {"title": null, "orient": "right", "values": [1440, 1490, 1540, 1600, 1660, 1740, 1820, 1910, 2000, 2100], "labelExpr": "indexof([1440, 1740, 1910], datum.value) >= 0 ? '' : format(datum.value, '.2f')", "labelOverlap": false, "grid": true, "zindex": 1, "tickSize": 4, "labelPadding": 5}},
           "y2": {"field": "h"}}},
        {"data": {"name": "ohlc"},
         "mark": {"type": "bar", "width": {"band": 0.7}, "strokeWidth": 0.7},
         "encoding": {
           "x": {"field": "d", "type": "ordinal", "title": null},
           "y": {"field": "o", "type": "quantitative", "title": null},
           "y2": {"field": "c"},
           "color": {"condition": {"test": "datum.c >= datum.o", "value": "#7ccf62"}, "value": "#f3a07f"},
           "stroke": {"condition": {"test": "datum.c >= datum.o", "value": "#3f9b30"}, "value": "#e0482a"}}},
        {"data": {"name": "mm200"},
         "mark": {"type": "line", "color": "#ff0000", "strokeWidth": 2, "interpolate": "monotone", "clip": true},
         "encoding": {"x": {"field": "d", "type": "ordinal", "title": null}, "y": {"field": "v", "type": "quantitative", "title": null}}},
        {"data": {"name": "mm50"},
         "mark": {"type": "line", "color": "#0000ff", "strokeWidth": 2, "interpolate": "monotone", "clip": true},
         "encoding": {"x": {"field": "d", "type": "ordinal", "title": null}, "y": {"field": "v", "type": "quantitative", "title": null}}},
        {"data": {"name": "tri"},
         "mark": {"type": "point", "shape": "triangle-down", "size": 60, "filled": true, "opacity": 1, "color": "#f2c200", "stroke": "#8a6a00", "strokeWidth": 0.8},
         "encoding": {"x": {"field": "d", "type": "ordinal", "title": null}, "y": {"field": "p", "type": "quantitative", "title": null}}},
        {"data": {"values": [{"d": "2020-09-17", "p": 1949.55, "txt": "27.26%"}]},
         "mark": {"type": "point", "shape": "M-1,-0.39L1,-0.39L1,0.39L-1,0.39Z", "size": 2116, "filled": true, "opacity": 1, "color": "#43a047"},
         "encoding": {"x": {"field": "d", "type": "ordinal", "title": null}, "y": {"field": "p", "type": "quantitative", "title": null}}},
        {"data": {"values": [{"d": "2020-09-17", "p": 1949.55, "txt": "27.26%"}]},
         "mark": {"type": "text", "font": "Liberation Sans", "fontSize": 12, "fontWeight": "bold", "color": "#ffffff", "baseline": "middle"},
         "encoding": {"x": {"field": "d", "type": "ordinal", "title": null}, "y": {"field": "p", "type": "quantitative", "title": null}, "text": {"field": "txt"}}},
        {"data": {"name": "pricebox"},
         "mark": {"type": "point", "shape": "M-1,-0.286L1,-0.286L1,0.286L-1,0.286Z", "size": 3136, "filled": true, "opacity": 1},
         "encoding": {"x": {"field": "d", "type": "ordinal", "title": null}, "y": {"field": "p", "type": "quantitative", "title": null},
           "color": {"field": "k", "type": "nominal", "scale": {"domain": ["last", "mm50", "mm200"], "range": ["#43a047", "#0000ff", "#ff0000"]}, "legend": null}}},
        {"data": {"name": "pricebox"},
         "mark": {"type": "text", "font": "Liberation Sans", "fontSize": 11, "fontWeight": "bold", "color": "#ffffff", "baseline": "middle"},
         "encoding": {"x": {"field": "d", "type": "ordinal", "title": null}, "y": {"field": "p", "type": "quantitative", "title": null}, "text": {"field": "p", "type": "quantitative", "format": ".2f"}}},
        {"data": {"values": [{"d": "2020-10-05", "p": 1443.3, "txt": "0.00"}]},
         "mark": {"type": "point", "shape": "M-1,-0.4L1,-0.4L1,0.4L-1,0.4Z", "size": 1600, "filled": true, "opacity": 1, "color": "#f5f5f5"},
         "encoding": {"x": {"field": "d", "type": "ordinal", "title": null}, "y": {"field": "p", "type": "quantitative", "title": null}}},
        {"data": {"values": [{"d": "2020-10-05", "p": 1443.3, "txt": "0.00"}]},
         "mark": {"type": "text", "font": "Liberation Sans", "fontSize": 11, "color": "#131722", "baseline": "middle"},
         "encoding": {"x": {"field": "d", "type": "ordinal", "title": null}, "y": {"field": "p", "type": "quantitative", "title": null}, "text": {"field": "txt"}}},
        {"data": {"values": [{"d": "2020-10-08", "p": 2070, "txt": "USD"}]},
         "mark": {"type": "point", "shape": "M-1,-0.51L1,-0.51L1,0.51L-1,0.51Z", "size": 1369, "filled": true, "opacity": 1, "fill": "#000000", "stroke": "#5d606b", "strokeWidth": 1},
         "encoding": {"x": {"field": "d", "type": "ordinal", "title": null}, "y": {"field": "p", "type": "quantitative", "title": null}}},
        {"data": {"values": [{"d": "2020-10-08", "p": 2070, "txt": "USD"}]},
         "mark": {"type": "text", "font": "Liberation Sans", "fontSize": 11, "color": "#d1d4dc", "baseline": "middle"},
         "encoding": {"x": {"field": "d", "type": "ordinal", "title": null}, "y": {"field": "p", "type": "quantitative", "title": null}, "text": {"field": "txt"}}}
      ]
    }
  ]
},
{
  "width": 978,
  "height": 82,
  "title": {"text": "Supertrend V1.0 - Buy or Sell Signal (3, 7)", "orient": "top", "offset": -24, "dx": 8, "fontSize": 13, "fontWeight": "normal"},
  "layer": [
    {"data": {"name": "st"},
     "mark": {"type": "line", "strokeWidth": 1.6, "clip": true},
     "encoding": {
       "x": {"field": "d", "type": "ordinal", "title": null, "axis": {"title": null, "values": ["2019-10-01","2019-11-01","2019-12-02","2020-01-02","2020-02-03","2020-03-02","2020-04-01","2020-05-01","2020-06-01","2020-07-01","2020-08-03","2020-09-01"], "labels": false, "ticks": false, "domain": true, "grid": true, "zindex": 1, "bandPosition": 0.5}},
       "y": {"field": "v", "type": "quantitative", "title": null, "scale": {"domain": [1406, 2164], "nice": false, "zero": false}, "axis": {"title": null, "orient": "right", "values": [1600], "format": "d", "grid": true, "zindex": 1, "tickSize": 4, "labelPadding": 5}},
       "color": {"field": "t", "type": "nominal", "scale": {"domain": ["buy", "sell"], "range": ["#259c25", "#d3134b"]}, "legend": null},
       "detail": {"field": "s", "type": "nominal"}}},
    {"data": {"name": "spk"},
     "mark": {"type": "rule", "strokeWidth": 1, "clip": true},
     "encoding": {
       "x": {"field": "d", "type": "ordinal", "title": null},
       "y": {"field": "a", "type": "quantitative", "title": null},
       "y2": {"field": "b"},
       "color": {"condition": {"test": "datum.t == 'sell'", "value": "#ff1a1a"}, "value": "#27a827"}}},
    {"data": {"values": [{"d": "2020-10-05", "v": 2032}]},
     "mark": {"type": "point", "shape": "M-1,-0.4L1,-0.4L1,0.4L-1,0.4Z", "size": 1600, "filled": true, "opacity": 1, "color": "#f0134f"},
     "encoding": {"x": {"field": "d", "type": "ordinal", "title": null}, "y": {"field": "v", "type": "quantitative", "title": null}}},
    {"data": {"values": [{"d": "2020-10-05", "v": 2032}]},
     "mark": {"type": "text", "font": "Liberation Sans", "fontSize": 11, "fontWeight": "bold", "color": "#ffffff", "baseline": "middle"},
     "encoding": {"x": {"field": "d", "type": "ordinal", "title": null}, "y": {"field": "v", "type": "quantitative", "title": null}, "text": {"field": "v", "type": "quantitative", "format": "d"}}}
  ]
},
{
  "width": 978,
  "height": 96,
  "title": {"text": "TRIX (18)", "orient": "top", "offset": -23, "dx": 8, "fontSize": 13, "fontWeight": "normal"},
  "layer": [
    {"mark": {"type": "rule", "color": "#8a8a8a", "strokeDash": [4, 4], "strokeWidth": 1},
     "encoding": {"y": {"datum": 0, "type": "quantitative", "title": null}}},
    {"data": {"name": "trix"},
     "mark": {"type": "line", "color": "#ace6ee", "strokeWidth": 1.8, "interpolate": "monotone"},
     "encoding": {
       "x": {"field": "d", "type": "ordinal", "title": null, "axis": {"title": null, "values": ["2019-10-01","2019-11-01","2019-12-02","2020-01-02","2020-02-03","2020-03-02","2020-04-01","2020-05-01","2020-06-01","2020-07-01","2020-08-03","2020-09-01"], "labelExpr": "['Ott','Nov','Dic','2020','Feb','Mar','Apr','Maggio','Giu','Lug','Ago','Set'][indexof(['2019-10-01','2019-11-01','2019-12-02','2020-01-02','2020-02-03','2020-03-02','2020-04-01','2020-05-01','2020-06-01','2020-07-01','2020-08-03','2020-09-01'], datum.value)]", "labelAngle": 0, "labelPadding": 6, "tickSize": 4, "ticks": true, "domain": true, "grid": true, "zindex": 1, "bandPosition": 0.5, "labelOverlap": false}},
       "y": {"field": "v", "type": "quantitative", "title": null, "scale": {"domain": [-10.8, 41.1], "nice": false, "zero": false}, "axis": {"title": null, "orient": "right", "values": [0, 20, 40], "format": ".2f", "grid": true, "zindex": 1, "tickSize": 4, "labelPadding": 5}}}},
    {"data": {"values": [{"d": "2020-10-05", "v": 7.07}]},
     "mark": {"type": "point", "shape": "M-1,-0.4L1,-0.4L1,0.4L-1,0.4Z", "size": 1600, "filled": true, "opacity": 1, "color": "#b2ebf2"},
     "encoding": {"x": {"field": "d", "type": "ordinal", "title": null}, "y": {"field": "v", "type": "quantitative", "title": null}}},
    {"data": {"values": [{"d": "2020-10-05", "v": 7.07}]},
     "mark": {"type": "text", "font": "Liberation Sans", "fontSize": 11, "color": "#131722", "baseline": "middle"},
     "encoding": {"x": {"field": "d", "type": "ordinal", "title": null}, "y": {"field": "v", "type": "quantitative", "title": null}, "text": {"field": "v", "type": "quantitative", "format": ".2f"}}}
  ]
}
]
}
